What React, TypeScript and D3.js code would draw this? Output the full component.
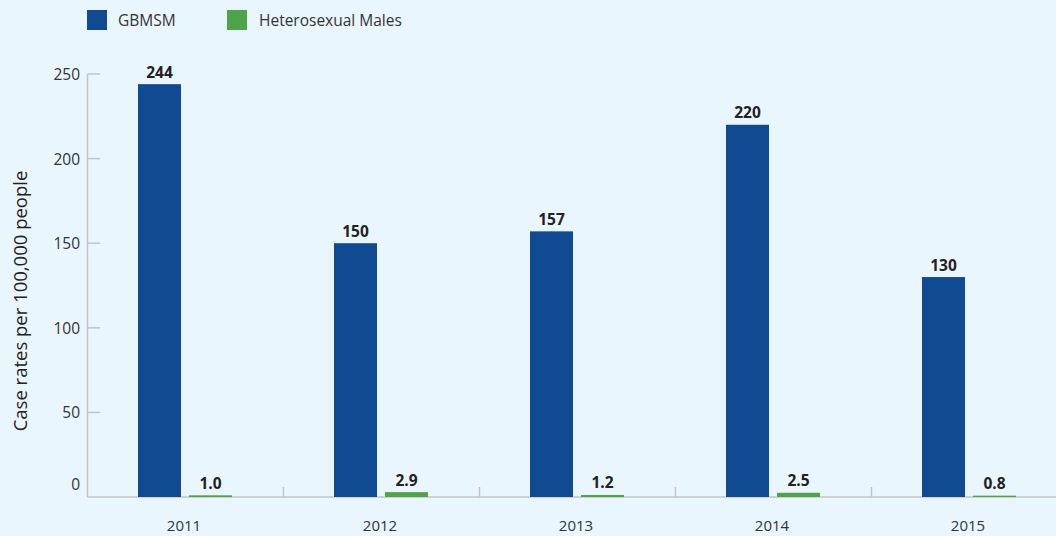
import React from "react";
import * as d3 from "d3";

const years = ["2011", "2012", "2013", "2014", "2015"];
const gbmsm = [244, 150, 157, 220, 130];
const hetero = [1.0, 2.9, 1.2, 2.5, 0.8];
const seriesNames = ["GBMSM", "Heterosexual Males"];
const yTicks = [0, 50, 100, 150, 200, 250];

const W = 1056;
const H = 536;
const BG = "#EAF6FD";
const BLUE = "#0F4A92";
const GREEN = "#4FA449";
const FONT = "'Open Sans', 'Noto Sans', sans-serif";

export default function App() {
  const x0 = 88;
  const step = 196;
  const x = d3.scaleBand<string>().domain(years).range([x0, x0 + step * years.length]).padding(0);
  const inner = d3.scaleBand<string>().domain(seriesNames).range([50, 144]).paddingInner(0.157).paddingOuter(0);
  const y = d3.scaleLinear().domain([0, 250]).range([497, 74]);

  const series = [gbmsm, hetero];
  const colors = [BLUE, GREEN];

  return (
    <svg width={W} height={H} style={{ position: "absolute", left: 0, top: 0, background: BG, fontFamily: FONT }}>
      <rect x={0} y={0} width={W} height={H} fill={BG} />
      {/* legend */}
      <rect x={87} y={10} width={20} height={20} fill={BLUE} />
      <text x={118} y={20} dominantBaseline="central" fontSize={15.5} fill="#333">GBMSM</text>
      <rect x={227} y={10} width={20} height={20} fill={GREEN} />
      <text x={259} y={20} dominantBaseline="central" fontSize={15.5} fill="#333">Heterosexual Males</text>

      {/* y axis */}
      <line x1={87.5} x2={87.5} y1={y(250)} y2={y(0)} stroke="#c4c4c4" strokeWidth={1.5} />
      {yTicks.map((t) => (
        <g key={t}>
          {t !== 0 && <line x1={87.5} x2={100} y1={y(t)} y2={y(t)} stroke="#c4c4c4" strokeWidth={1.5} />}
          <text x={80} y={t === 0 ? y(t) - 13 : y(t)} textAnchor="end" dominantBaseline="central" fontSize={15.5} fill="#333">{t}</text>
        </g>
      ))}
      <text transform={`translate(19,301) rotate(-90)`} textAnchor="middle" dominantBaseline="central" fontSize={18.5} fill="#222">
        Case rates per 100,000 people
      </text>

      {/* baseline */}
      <line x1={87.5} x2={W} y1={y(0)} y2={y(0)} stroke="#c4c4c4" strokeWidth={1.5} />
      {years.slice(1).map((yr) => (
        <line key={yr} x1={(x(yr) as number) - 0.5} x2={(x(yr) as number) - 0.5} y1={y(0) - 10} y2={y(0)} stroke="#c4c4c4" strokeWidth={1.5} />
      ))}

      {/* bars */}
      {years.map((yr, i) => (
        <g key={yr} transform={`translate(${x(yr)},0)`}>
          {series.map((s, j) => {
            const bx = inner(seriesNames[j]) as number;
            const bw = inner.bandwidth();
            const v = s[i];
            return (
              <g key={j}>
                <rect x={bx} y={y(v)} width={bw} height={y(0) - y(v)} fill={colors[j]} />
                <text x={bx + bw / 2} y={y(v) - 6.5} textAnchor="middle" fontSize={15.5} fontWeight="bold" fill="#222">
                  {j === 0 ? d3.format("d")(v) : d3.format(".1f")(v)}
                </text>
              </g>
            );
          })}
          <text x={x.bandwidth() / 2 - 2} y={525} textAnchor="middle" dominantBaseline="central" fontSize={15} fill="#333">{yr}</text>
        </g>
      ))}
    </svg>
  );
}
